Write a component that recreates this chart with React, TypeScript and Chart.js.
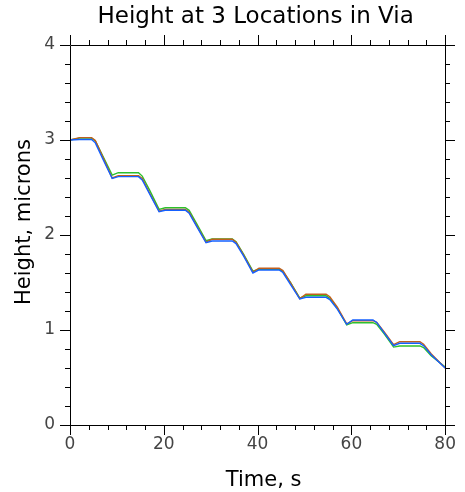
import React, { useEffect, useRef } from "react";
import { Chart, registerables } from "chart.js";

Chart.register(...registerables);

const chartTitle = "Height at 3 Locations in Via";
const xAxisTitle = "Time, s";
const yAxisTitle = "Height, microns";

const times = [
  0, 2, 4.6, 5.4, 7, 9,
  10.3, 14.6, 15.4, 17, 19,
  20.3, 24.6, 25.4, 27, 29,
  30.3, 34.6, 35.4, 37, 39,
  40.3, 44.6, 45.4, 47, 49,
  50.3, 54.6, 55.4, 57, 59,
  60.3, 64.6, 65.4, 67, 69,
  70.3, 74.6, 75.4, 77, 80,
];

const blueHeights = [
  3.0, 3.005, 3.005, 2.97, 2.8, 2.595,
  2.614, 2.614, 2.58, 2.43, 2.245,
  2.26, 2.26, 2.23, 2.09, 1.918,
  1.937, 1.937, 1.91, 1.78, 1.6,
  1.632, 1.632, 1.605, 1.48, 1.326,
  1.344, 1.344, 1.32, 1.22, 1.06,
  1.105, 1.105, 1.08, 0.97, 0.835,
  0.86, 0.86, 0.835, 0.74, 0.6,
];

const brownHeights = [
  3.0, 3.025, 3.025, 2.995, 2.82, 2.6,
  2.625, 2.625, 2.595, 2.44, 2.25,
  2.27, 2.27, 2.24, 2.1, 1.925,
  1.955, 1.955, 1.925, 1.79, 1.61,
  1.65, 1.65, 1.625, 1.5, 1.33,
  1.376, 1.376, 1.35, 1.24, 1.065,
  1.098, 1.098, 1.08, 0.98, 0.845,
  0.877, 0.877, 0.85, 0.75, 0.6,
];

const greenHeights = [
  3.0, 3.02, 3.02, 2.99, 2.83, 2.63,
  2.656, 2.656, 2.62, 2.47, 2.27,
  2.287, 2.287, 2.26, 2.12, 1.94,
  1.958, 1.958, 1.93, 1.8, 1.62,
  1.64, 1.64, 1.615, 1.5, 1.335,
  1.36, 1.36, 1.335, 1.23, 1.055,
  1.077, 1.077, 1.06, 0.96, 0.82,
  0.832, 0.832, 0.815, 0.73, 0.61,
];

const xMin = 0;
const xMax = 80;
const xMajor = 20;
const xMinor = 4;
const yMin = 0;
const yMax = 4;
const yMajor = 1;
const yMinor = 0.2;

const FONT = "'DejaVu Sans', sans-serif";

const frameAndTitles = {
  id: "frameAndTitles",
  afterDraw(chart: any) {
    const { ctx, chartArea } = chart;
    const xs = chart.scales.x;
    const ys = chart.scales.y;
    const { left, right, top, bottom } = chartArea;
    ctx.save();
    ctx.strokeStyle = "#000";
    ctx.lineWidth = 1;
    ctx.beginPath();
    ctx.rect(Math.round(left) + 0.5, Math.round(top) + 0.5, Math.round(right - left), Math.round(bottom - top));
    ctx.stroke();
    ctx.beginPath();
    const nx = Math.round((xMax - xMin) / xMinor);
    for (let i = 0; i <= nx; i++) {
      const v = xMin + i * xMinor;
      const major = Math.abs(v / xMajor - Math.round(v / xMajor)) < 1e-6;
      const len = major ? 10 : 5;
      const px = Math.round(xs.getPixelForValue(v)) + 0.5;
      ctx.moveTo(px, Math.round(bottom));
      ctx.lineTo(px, Math.round(bottom) + len);
      ctx.moveTo(px, Math.round(top));
      ctx.lineTo(px, Math.round(top) - len);
    }
    const ny = Math.round((yMax - yMin) / yMinor);
    for (let i = 0; i <= ny; i++) {
      const v = yMin + i * yMinor;
      const major = Math.abs(v / yMajor - Math.round(v / yMajor)) < 1e-6;
      const len = major ? 10 : 5;
      const py = Math.round(ys.getPixelForValue(v)) + 0.5;
      ctx.moveTo(Math.round(left), py);
      ctx.lineTo(Math.round(left) - len, py);
      ctx.moveTo(Math.round(right), py);
      ctx.lineTo(Math.round(right) + len, py);
    }
    ctx.stroke();

    ctx.fillStyle = "#000";
    ctx.textAlign = "center";
    ctx.textBaseline = "alphabetic";
    ctx.font = `23px ${FONT}`;
    ctx.fillText(chartTitle, (left + right) / 2 - 2, 23);

    ctx.font = `21px ${FONT}`;
    ctx.fillText(xAxisTitle, (left + right) / 2 + 6, 486);

    ctx.translate(30, (top + bottom) / 2 - 13);
    ctx.rotate(-Math.PI / 2);
    ctx.fillText(yAxisTitle, 0, 0);
    ctx.restore();
  },
};

export default function App() {
  const ref = useRef<HTMLCanvasElement | null>(null);
  useEffect(() => {
    if (!ref.current) return;
    const mk = (ys: number[]) => times.map((t, i) => ({ x: t, y: ys[i] }));
    const chart = new Chart(ref.current, {
      type: "line",
      data: {
        datasets: [
          { label: "A", data: mk(blueHeights), borderColor: "#1560ff", borderWidth: 1.4, pointRadius: 0, fill: false, tension: 0 },
          { label: "B", data: mk(brownHeights), borderColor: "#c0601e", borderWidth: 1.4, pointRadius: 0, fill: false, tension: 0 },
          { label: "C", data: mk(greenHeights), borderColor: "#2cc02c", borderWidth: 1.4, pointRadius: 0, fill: false, tension: 0 },
        ],
      },
      options: {
        animation: false,
        responsive: false,
        devicePixelRatio: 1,
        layout: { padding: { top: 45, right: 17, left: 0, bottom: 0 } },
        plugins: { legend: { display: false }, tooltip: { enabled: false }, title: { display: false } },
        scales: {
          x: {
            type: "linear",
            min: xMin,
            max: xMax,
            grid: { display: false, drawTicks: false },
            border: { display: false },
            ticks: { stepSize: xMajor, color: "#444", font: { family: FONT, size: 17 }, padding: 9, maxRotation: 0 },
            afterFit: (s: any) => { s.height = 67; },
          },
          y: {
            type: "linear",
            min: yMin,
            max: yMax,
            grid: { display: false, drawTicks: false },
            border: { display: false },
            ticks: { stepSize: yMajor, color: "#444", font: { family: FONT, size: 17 }, padding: 15 },
            afterFit: (s: any) => { s.width = 70; },
          },
        },
      },
      plugins: [frameAndTitles],
    } as any);
    return () => chart.destroy();
  }, []);
  return (
    <div style={{ position: "fixed", left: 0, top: 0, width: 465, height: 492 }}>
      <canvas ref={ref} width={465} height={492} style={{ display: "block" }} />
    </div>
  );
}
